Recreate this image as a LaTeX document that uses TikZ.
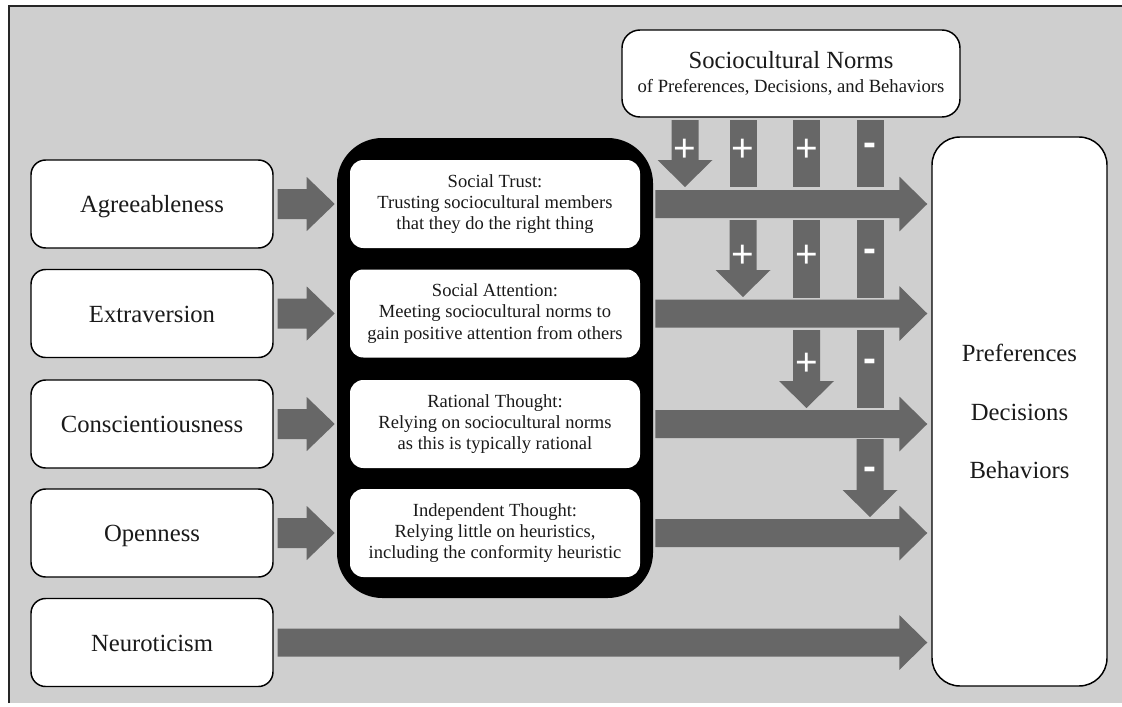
\documentclass[tikz,border=0pt]{standalone}
\usepackage{fontspec}
\setmainfont{Liberation Serif}
\setsansfont{Liberation Sans}
\usetikzlibrary{calc}
\definecolor{bggray}{HTML}{CFCFCF}
\definecolor{arrgray}{HTML}{676767}
\definecolor{txt}{HTML}{1A1A1A}
\tikzset{
 arr/.style={fill=arrgray},
 trait/.style={draw=black, line width=1.1pt, fill=white, rounded corners=11pt, minimum width=181.5pt, minimum height=66pt, inner sep=0pt, font=\fontsize{18.5}{22}\selectfont, text=txt, text height=13pt, text depth=0pt},
 mechbox/.style={fill=white, rounded corners=10pt, minimum width=217.5pt, minimum height=66pt, inner sep=0pt, align=center, font=\fontsize{13.9}{15.9}\selectfont, text=txt},
 sign/.style={text=white, font=\fontsize{29}{29}\selectfont\sffamily, inner sep=0pt, anchor=base},
 minus/.style={sign, font=\fontsize{29}{29}\selectfont\sffamily\bfseries},
}
% horizontal block arrow: from, to, shaft half, head half, head length
\newcommand\blockarrow[5]{%
 \fill[arr] let \p1=(#1), \p2=(#2) in
 (\x1,\y1+#3) -- (\x2-#5,\y1+#3) -- (\x2-#5,\y1+#4) -- (\x2,\y1) -- (\x2-#5,\y1-#4) -- (\x2-#5,\y1-#3) -- (\x1,\y1-#3) -- cycle;}
% vertical bar: x, top, bottom
\newcommand\vbar[3]{\fill[arr] (#1-13.5,#2) rectangle (#1+13.5,#3);}
% vertical arrow: x, top, tip
\newcommand\vtip[3]{\fill[arr] (#1-13.5,#2) -- (#1-13.5,#3-27) -- (#1-27.5,#3-27) -- (#1,#3) -- (#1+27.5,#3-27) -- (#1+13.5,#3-27) -- (#1+13.5,#2) -- cycle;}
\begin{document}
\begin{tikzpicture}[x=0.75pt,y=-0.75pt]
\useasboundingbox (0,0) rectangle (1122,707);
\fill[white] (0,0) rectangle (1122,707);
\fill[bggray] (9,6) rectangle (1122,703);
\draw[line width=1.5pt, draw=black!85] (9,703) -- (9,6) -- (1122,6);

% traits
\node[trait] (agree) at (152,204) {Agreeableness};
\node[trait] (extra) at (152,313.5) {Extraversion};
\node[trait] (consc) at (152,424) {Conscientiousness};
\node[trait] (open) at (152,533) {Openness};
\node[trait] (neuro) at (152,642.5) {Neuroticism};

% mechanisms
\node[fill=black, rounded corners=34pt, minimum width=237pt, minimum height=345pt, inner sep=0pt] (mech) at (495,368) {};
\node[mechbox] (trust) at (495,204) {Social Trust:\\Trusting sociocultural members\\that they do the right thing};
\node[mechbox] (attn) at (495,313.5) {Social Attention:\\Meeting sociocultural norms to\\gain positive attention from others};
\node[mechbox] (rat) at (495,424) {Rational Thought:\\Relying on sociocultural norms\\as this is typically rational};
\node[mechbox] (indep) at (495,533) {Independent Thought:\\Relying little on heuristics,\\including the conformity heuristic};

% norms
\node[draw=black, line width=1.1pt, fill=white, rounded corners=13.5pt, minimum width=253.5pt, minimum height=65.25pt, inner sep=0pt, align=center, text=txt, font=\fontsize{14}{18}\selectfont] (norms) at (791,73.5) {{\fontsize{18.5}{18}\selectfont Sociocultural Norms}\\of Preferences, Decisions, and Behaviors};

% outcome
\node[draw=black, line width=1.1pt, fill=white, rounded corners=21pt, minimum width=131.25pt, minimum height=411.75pt, inner sep=0pt, align=center, text=txt, font=\fontsize{18.5}{44}\selectfont] (out) at (1019.5,411.5) {Preferences\\Decisions\\Behaviors};

% short arrows
\blockarrow{$(agree.east)+(4,0)$}{$(mech.west)+(-2,0)$}{11.25pt}{20.25pt}{21pt}
\blockarrow{$(extra.east)+(4,0)$}{$(mech.west)+(-2,0)$}{11.25pt}{20.25pt}{21pt}
\blockarrow{$(consc.east)+(4,0)$}{$(mech.west)+(-2,0)$}{11.25pt}{20.25pt}{21pt}
\blockarrow{$(open.east)+(4,0)$}{$(mech.west)+(-2,0)$}{11.25pt}{20.25pt}{21pt}

% long arrows
\blockarrow{$(mech.east |- trust)+(2,0)$}{$(out.west)+(-4,0)$}{10.5pt}{20.6pt}{21pt}
\blockarrow{$(mech.east |- attn)+(2,0)$}{$(out.west)+(-4,0)$}{10.5pt}{20.6pt}{21pt}
\blockarrow{$(mech.east |- rat)+(2,0)$}{$(out.west)+(-4,0)$}{10.5pt}{20.6pt}{21pt}
\blockarrow{$(mech.east |- indep)+(2,0)$}{$(out.west)+(-4,0)$}{10.5pt}{20.6pt}{21pt}
\blockarrow{$(neuro.east)+(4,0)$}{$(out.west)+(-4,0)$}{10.5pt}{20.6pt}{21pt}

% vertical moderators
\vtip{685}{120}{187}
\vbar{743}{120}{187}
\vtip{743}{220}{297}
\vbar{806.5}{120}{187}
\vbar{806.5}{220}{298}
\vtip{806.5}{330}{408}
\vbar{870}{120}{187}
\vbar{870}{220}{298}
\vbar{870}{330}{408}
\vtip{870}{439}{517}

% signs
\node[sign] (s11) at (685,161) {+};
\node[sign] (s12) at (743,161) {+};
\node[sign] (s13) at (806.5,161) {+};
\node[minus] (s14) at (870,155) {-};
\node[sign] (s22) at (743,267) {+};
\node[sign] (s23) at (806.5,267) {+};
\node[minus] (s24) at (870,261) {-};
\node[sign] (s33) at (806.5,375) {+};
\node[minus] (s34) at (870,371) {-};
\node[minus] (s44) at (870,479.5) {-};
\end{tikzpicture}
\end{document}
